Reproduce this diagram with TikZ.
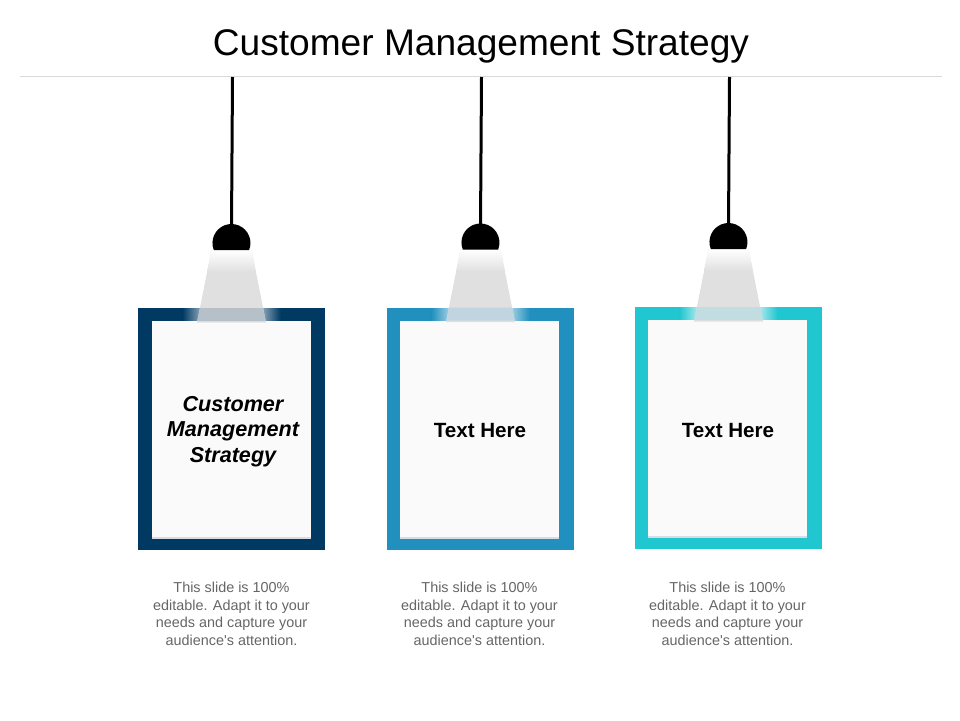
\documentclass[tikz,border=0pt]{standalone}
\usepackage{fontspec}
\setmainfont{Liberation Sans}
\newfontfamily\plainfont{Liberation Sans}
\usetikzlibrary{calc}
\definecolor{cardnavy}{HTML}{003A63}
\definecolor{cardblue}{HTML}{2290BF}
\definecolor{cardteal}{HTML}{20C6D0}
\definecolor{panelfill}{HTML}{FAFAFA}
\definecolor{panelline}{HTML}{D6DEE3}
\definecolor{conefill}{HTML}{E0E0E0}
\definecolor{desccol}{HTML}{666666}
\definecolor{ovA}{HTML}{B5C0C9}
\definecolor{ovB}{HTML}{C0D5E0}
\definecolor{ovC}{HTML}{C2DDE2}
\definecolor{glowA}{HTML}{8FA9BD}
\definecolor{glowB}{HTML}{A6D2E5}
\definecolor{glowC}{HTML}{B0EAEE}
\tikzset{
  framebox/.style={inner sep=0pt,outer sep=0pt,minimum width=187pt,minimum height=242pt},
  panelbox/.style={fill=panelfill,inner sep=0pt,outer sep=0pt,minimum width=159pt,minimum height=218pt},
  cardtext/.style={font=\fontsize{20.6}{25.5}\selectfont\bfseries,align=center,text=black,inner sep=0pt},
  desctext/.style={font=\plainfont\fontsize{14.4}{17.5}\selectfont,align=center,text=desccol,inner sep=0pt},
  cordline/.style={line width=3pt,black},
}
% #1 name, #2 cx, #3 frame top, #4 frame colour, #5 overlap colour, #6 glow colour, #7 text, #8 panel cx, #9 label cx
\newcommand{\lampcard}[9]{%
  \node[framebox,fill=#4,anchor=north] (#1frame) at (#2,#3) {};
  \node[panelbox,anchor=north] (#1panel) at (#8,#3+13) {};
  \fill[panelline] (#8-79.5,#3+229) rectangle (#8+79.5,#3+231);
  \path[left color=#4,right color=#6] (#2-49,#3+0.5) rectangle (#2-30,#3+12.5);
  \path[left color=#6,right color=#4] (#2+30,#3+0.5) rectangle (#2+49,#3+12.5);
  \fill[conefill] (#2-20,#3-58) -- (#2+20,#3-58) -- (#2+34.5,#3+14.5) -- (#2-34.5,#3+14.5) -- cycle;
  \path[top color=white,bottom color=conefill] (#2-20,#3-58) -- (#2+20,#3-58) -- (#2+24.4,#3-36) -- (#2-24.4,#3-36) -- cycle;
  \fill[#5] (#2-31.5,#3) -- (#2+31.5,#3) -- (#2+34.2,#3+13) -- (#2-34.2,#3+13) -- cycle;
  \coordinate (#1bulbtop) at (#2,#3-80);
  \coordinate (#1hang) at (#2+1,77);
  \draw[cordline] (#1hang) -- (#1bulbtop);
  \fill[black] (#2-17.7,#3-58) arc[start angle=201.6,end angle=-21.6,radius=19pt] -- cycle;
  \node[desctext,anchor=north] (#1desc) at (#8,582) {This slide is 100\%\\editable. Adapt it to your\\needs and capture your\\audience's attention.};
  \node[cardtext] (#1label) at (#9,#3+123.3) {#7};
}
\begin{document}
\begin{tikzpicture}[x=1pt,y=-1pt]
\useasboundingbox (0,0) rectangle (960,720);
\fill[white] (0,0) rectangle (960,720);
\node[font=\fontsize{37.1}{40}\selectfont,inner sep=0pt] (title) at (481,46) {Customer Management Strategy};
\coordinate (ruleL) at (20,76.5);
\coordinate (ruleR) at (942,76.5);
\draw[line width=0.8pt,black!15] (ruleL) -- (ruleR);
\lampcard{a}{231.5}{308}{cardnavy}{ovA}{glowA}{\fontsize{21.6}{25.5}\selectfont\itshape Customer\\\fontsize{21.6}{25.5}\selectfont\itshape Management\\\fontsize{21.6}{25.5}\selectfont\itshape Strategy}{231.5}{233}
\lampcard{b}{480.5}{307.5}{cardblue}{ovB}{glowB}{Text Here}{479.5}{480}
\lampcard{c}{728.5}{307}{cardteal}{ovC}{glowC}{Text Here}{727.5}{728}
\end{tikzpicture}
\end{document}
